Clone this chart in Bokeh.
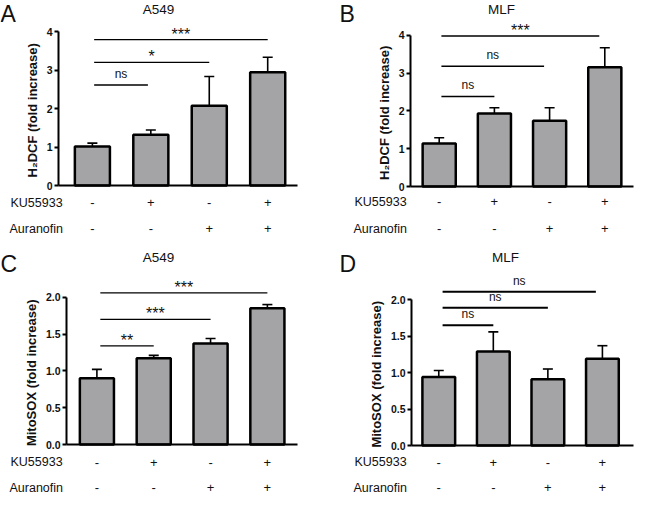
from bokeh.plotting import figure
from bokeh.models import (ColumnDataSource, Range1d, FixedTicker, Whisker, TeeHead,
                          LabelSet, Label)
from bokeh.core.properties import field, value
from bokeh.layouts import column, row
from bokeh.embed import file_html
from bokeh.resources import INLINE

# ---------------- data ----------------
groups = [1, 2, 3, 4]
ku55933 = ["-", "+", "-", "+"]
auranofin = ["-", "-", "+", "+"]

titles = ["A549", "MLF", "A549", "MLF"]
letters = ["A", "B", "C", "D"]
ylabels = ["H\u2082DCF  (fold increase)", "H\u2082DCF  (fold increase)",
           "MitoSOX  (fold increase)", "MitoSOX  (fold increase)"]

a_mean = [1.01, 1.32, 2.07, 2.94]
a_err = [0.09, 0.12, 0.76, 0.39]
b_mean = [1.14, 1.93, 1.74, 3.15]
b_err = [0.15, 0.15, 0.34, 0.52]
c_mean = [0.90, 1.17, 1.37, 1.85]
c_err = [0.12, 0.04, 0.07, 0.05]
d_mean = [0.94, 1.29, 0.91, 1.19]
d_err = [0.09, 0.27, 0.14, 0.18]

yticks_h2dcf = [0, 1, 2, 3, 4]
ytick_labels_h2dcf = ["0", "1", "2", "3", "4"]
yticks_mito = [0, 0.5, 1.0, 1.5, 2.0]
ytick_labels_mito = ["0.0", "0.5", "1.0", "1.5", "2.0"]

# significance brackets: start, end, height, label
a_sig_start = [1.03, 1.03, 1.03]
a_sig_end = [1.95, 3.0, 4.0]
a_sig_y = [2.61, 3.20, 3.79]
a_sig_text = ["ns", "*", "***"]

b_sig_start = [1.04, 1.04, 1.04]
b_sig_end = [2.0, 2.9, 3.9]
b_sig_y = [2.38, 3.18, 3.98]
b_sig_text = ["ns", "ns", "***"]

c_sig_start = [1.06, 1.06, 1.06]
c_sig_end = [2.0, 3.0, 4.0]
c_sig_y = [1.34, 1.70, 2.06]
c_sig_text = ["**", "***", "***"]

d_sig_start = [1.07, 1.07, 1.07]
d_sig_end = [2.0, 3.0, 3.88]
d_sig_y = [1.65, 1.89, 2.11]
d_sig_text = ["ns", "ns", "ns"]

FONT = "Liberation Sans"
BAR_FILL = "#a4a4a7"
TXT = "#111111"


def make_panel(idx, mean, err, yticks, ytick_labels, sig, geo):
    W, H = geo["size"]
    ax_px, ax_x, xr_px, xr_x = geo["xmap"]
    zero_py, tmax_py, tmax = geo["ymap"]
    ppx = (xr_px - ax_px) / (xr_x - ax_x)
    ppy = (zero_py - tmax_py) / tmax
    xr = Range1d(ax_x - ax_px / ppx, ax_x + (W - ax_px) / ppx)
    yr = Range1d(-(H - zero_py) / ppy, zero_py / ppy)

    def dx(px):
        return ax_x + (px - ax_px) / ppx

    def dy(py):
        return (zero_py - py) / ppy

    p = figure(width=W, height=H, x_range=xr, y_range=yr,
               output_backend="svg", toolbar_location=None,
               min_border=0, min_border_left=0, min_border_right=0,
               min_border_top=0, min_border_bottom=0)
    p.outline_line_color = None
    p.xgrid.visible = False
    p.ygrid.visible = False
    p.background_fill_color = "white"
    p.border_fill_color = "white"

    # y axis, pinned at the left end of the bar area
    ya = p.yaxis[0]
    ya.fixed_location = ax_x
    ya.ticker = FixedTicker(ticks=yticks)
    ya.major_label_overrides = {t: s for t, s in zip(yticks, ytick_labels)}
    ya.bounds = (yticks[0], yticks[-1])
    ya.axis_line_width = 2
    ya.major_tick_line_width = 2
    ya.major_tick_out = 4
    ya.major_tick_in = 0
    ya.minor_tick_line_color = None
    ya.major_label_text_font = FONT
    ya.major_label_text_font_style = "bold"
    ya.major_label_text_font_size = "10.5px"
    ya.major_label_text_color = TXT
    ya.major_label_standoff = 2
    ya.axis_label = ylabels[idx]
    ya.axis_label_text_font = FONT
    ya.axis_label_text_font_style = "bold"
    ya.axis_label_text_font_size = "13px"
    ya.axis_label_text_color = TXT
    ya.axis_label_standoff = 4

    # x axis: baseline only, pinned at y = 0
    xa = p.xaxis[0]
    xa.fixed_location = 0
    xa.bounds = (ax_x, xr_x)
    xa.ticker = FixedTicker(ticks=[])
    xa.axis_line_width = 2
    xa.major_tick_line_color = None
    xa.minor_tick_line_color = None
    xa.major_label_text_font_size = "0px"

    src = ColumnDataSource(dict(x=groups, top=mean,
                                upper=[m + e for m, e in zip(mean, err)]))
    p.add_layout(Whisker(source=src, base="x", upper="upper", lower="top",
                         line_width=1.6, line_color="black",
                         upper_head=TeeHead(size=10, line_width=1.6, line_color="black"),
                         lower_head=None))
    p.vbar(x="x", top="top", width=0.6, bottom=0, source=src,
           fill_color=BAR_FILL, line_color="black", line_width=2.5)

    s0, s1, sy, st = sig
    ssrc = ColumnDataSource(dict(
        x0=s0, x1=s1, y=sy, t=st,
        xm=[(a + b) / 2 for a, b in zip(s0, s1)],
        fs=["16px" if "*" in s else "12px" for s in st],
        off=[-3 if "*" in s else 4 for s in st]))
    p.segment(x0="x0", y0="y", x1="x1", y1="y", source=ssrc,
              line_color="black", line_width=geo["sig_lw"])
    p.add_layout(LabelSet(x="xm", y="y", text="t", source=ssrc, y_offset=field("off"),
                          text_align="center", text_baseline="bottom",
                          text_font=value(FONT), text_font_size=field("fs"),
                          text_color=TXT))

    # +/- rows
    ry1, ry2 = geo["rows_y"]
    ksrc = ColumnDataSource(dict(x=groups, y=[dy(ry1)] * 4, t=ku55933))
    asrc = ColumnDataSource(dict(x=groups, y=[dy(ry2)] * 4, t=auranofin))
    for s in (ksrc, asrc):
        p.add_layout(LabelSet(x="x", y="y", text="t", source=s,
                              text_align="center", text_baseline="middle",
                              text_font=value(FONT), text_font_size=value("13px"),
                              text_color=TXT))
    lx = geo["row_label_x"]
    p.add_layout(Label(x=dx(lx), y=dy(ry1), text="KU55933", text_align="left",
                       text_baseline="middle", text_font=FONT, text_font_size="12.5px",
                       text_color=TXT))
    p.add_layout(Label(x=dx(lx - 1), y=dy(ry2), text="Auranofin", text_align="left",
                       text_baseline="middle", text_font=FONT, text_font_size="12.5px",
                       text_color=TXT))

    tx, ty = geo["title"]
    p.add_layout(Label(x=dx(tx), y=dy(ty), text=titles[idx], text_align="center",
                       text_baseline="middle", text_font=FONT, text_font_size="13.5px",
                       text_color=TXT))
    lx2, ly2 = geo["letter"]
    p.add_layout(Label(x=dx(lx2), y=dy(ly2), text=letters[idx], text_align="left",
                       text_baseline="top", text_font=FONT, text_font_size="23px",
                       text_color=TXT))
    return p


geoA = dict(size=(317, 242), xmap=(58, 0.42, 297, 4.51), ymap=(185, 31.0, 4), sig_lw=1.3,
            rows_y=(202, 228), row_label_x=10, title=(158, 8.5), letter=(0, 0))
geoB = dict(size=(318, 242), xmap=(93, 0.48, 316, 4.52), ymap=(186, 34.7, 4), sig_lw=1.6,
            rows_y=(201, 228), row_label_x=37, title=(184, 8.5), letter=(22, 0))
geoC = dict(size=(317, 252), xmap=(66, 0.465, 297, 4.53), ymap=(202, 54.7, 2), sig_lw=1.2,
            rows_y=(219.7, 245), row_label_x=10, title=(158, 15), letter=(0, 8))
geoD = dict(size=(318, 252), xmap=(94, 0.5, 316, 4.57), ymap=(203, 57.3, 2), sig_lw=2.0,
            rows_y=(219.7, 245), row_label_x=37, title=(188, 15), letter=(22, 8))

pA = make_panel(0, a_mean, a_err, yticks_h2dcf, ytick_labels_h2dcf,
                (a_sig_start, a_sig_end, a_sig_y, a_sig_text), geoA)
pB = make_panel(1, b_mean, b_err, yticks_h2dcf, ytick_labels_h2dcf,
                (b_sig_start, b_sig_end, b_sig_y, b_sig_text), geoB)
pC = make_panel(2, c_mean, c_err, yticks_mito, ytick_labels_mito,
                (c_sig_start, c_sig_end, c_sig_y, c_sig_text), geoC)
pD = make_panel(3, d_mean, d_err, yticks_mito, ytick_labels_mito,
                (d_sig_start, d_sig_end, d_sig_y, d_sig_text), geoD)

layout = column(row(pA, pB), row(pC, pD))
open("out.html", "w").write(file_html(layout, INLINE))
